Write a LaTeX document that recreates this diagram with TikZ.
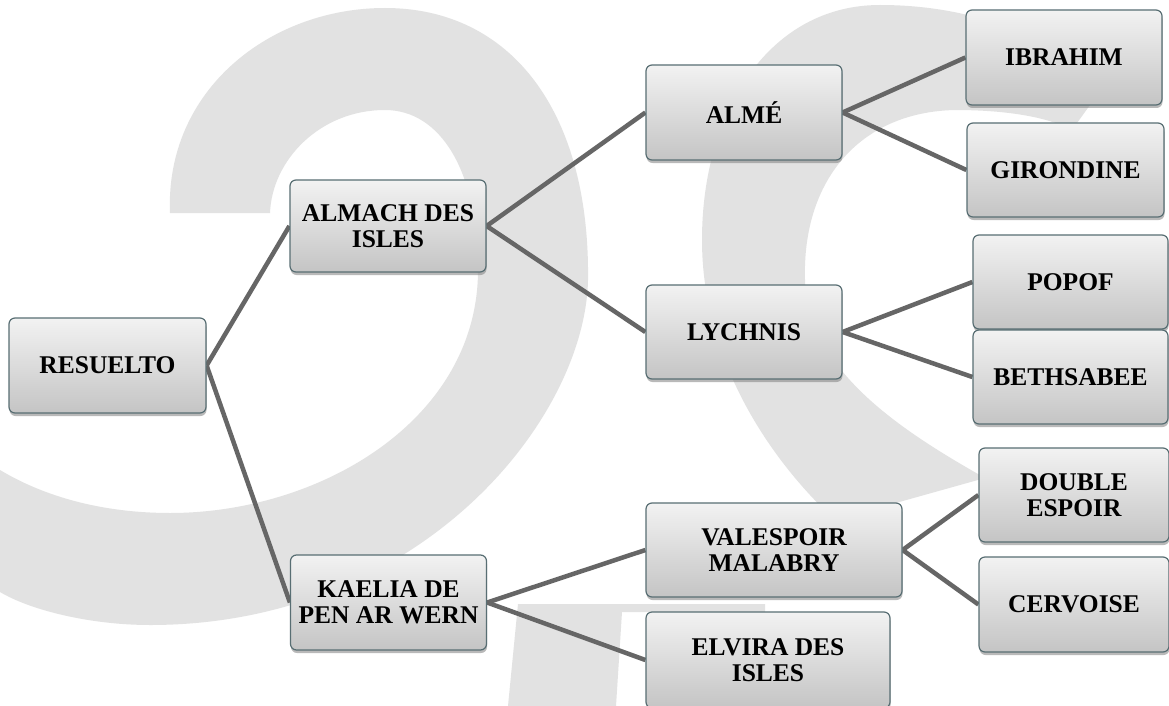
\documentclass[tikz,border=0pt]{standalone}
\usepackage{fontspec}
\setmainfont{Liberation Serif}
\usetikzlibrary{shadows}
\pgfdeclarelayer{wm}
\pgfdeclarelayer{lines}
\pgfsetlayers{wm,lines,main}
\definecolor{wmgray}{RGB}{226,226,226}
\definecolor{conngray}{RGB}{102,102,102}
\definecolor{boxborder}{RGB}{88,110,115}
\tikzset{
  box/.style={draw=boxborder, line width=1.2pt, rounded corners=6pt,
    top color=white!95!black, bottom color=white!77!black,
    drop shadow={shadow xshift=0.5pt, shadow yshift=-3pt, opacity=0.55},
    align=center, inner sep=0pt,
    font=\fontsize{25.5}{26}\selectfont\bfseries},
  conn/.style={draw=conngray, line width=4.5pt},
  wmark/.style={fill=wmgray, draw=none}
}
\begin{document}
\begin{tikzpicture}[x=1pt,y=-1pt]
\useasboundingbox (0,0) rectangle (1169,706);
% watermark
\begin{pgfonlayer}{wm}
\fill[white] (0,0) rectangle (1169,706);
\fill[wmark] (170,213) .. controls (165,90) and (270,8) .. (385,8)
  .. controls (510,8) and (590,110) .. (588,280)
  .. controls (585,420) and (420,625) .. (150,625)
  .. controls (90,625) and (30,610) .. (0,592) -- (0,470)
  .. controls (50,500) and (110,513) .. (170,513)
  .. controls (320,513) and (478,420) .. (478,270)
  .. controls (478,170) and (440,110) .. (385,110)
  .. controls (320,110) and (272,160) .. (270,213) -- cycle;
\fill[wmark] (1095,98) .. controls (1060,35) and (970,5) .. (880,5)
  .. controls (770,5) and (702,110) .. (702,240)
  .. controls (702,360) and (770,460) .. (835,520) -- (985,478)
  .. controls (900,430) and (808,370) .. (805,280)
  .. controls (802,180) and (860,112) .. (955,110)
  .. controls (1010,110) and (1050,118) .. (1072,130) -- cycle;
\fill[wmark] (518,604) -- (765,604) -- (765,612) -- (622,612) -- (616,706) -- (508,706) -- cycle;
\end{pgfonlayer}
% nodes
\node[box, minimum width=197pt, minimum height=95pt] (res) at (107.5,365.5) {RESUELTO};
\node[box, minimum width=196pt, minimum height=92pt] (alm) at (388,226) {ALMACH DES\\ISLES};
\node[box, minimum width=196pt, minimum height=95pt] (kae) at (388.5,602.5) {KAELIA DE\\PEN AR WERN};
\node[box, minimum width=196pt, minimum height=95pt] (alme) at (744,112.5) {ALMÉ};
\node[box, minimum width=196pt, minimum height=94pt] (lyc) at (744,332) {LYCHNIS};
\node[box, minimum width=256pt, minimum height=94pt] (val) at (774,550) {VALESPOIR\\MALABRY};
\node[box, minimum width=244pt, minimum height=96pt] (elv) at (768,660) {ELVIRA DES\\ISLES};
\node[box, minimum width=196pt, minimum height=95pt] (ibr) at (1064,57.5) {IBRAHIM};
\node[box, minimum width=197pt, minimum height=94pt] (gir) at (1065.5,170) {GIRONDINE};
\node[box, minimum width=195pt, minimum height=94pt] (pop) at (1070.5,282) {POPOF};
\node[box, minimum width=195pt, minimum height=94pt] (bet) at (1070.5,377) {BETHSABEE};
\node[box, minimum width=190pt, minimum height=94pt] (dou) at (1074,495) {DOUBLE\\ESPOIR};
\node[box, minimum width=190pt, minimum height=95pt] (cer) at (1074,604.5) {CERVOISE};
% connectors
\begin{pgfonlayer}{lines}
\draw[conn] (res.east) -- (alm.west);
\draw[conn] (res.east) -- (kae.west);
\draw[conn] (alm.east) -- (alme.west);
\draw[conn] (alm.east) -- (lyc.west);
\draw[conn] (kae.east) -- (val.west);
\draw[conn] (kae.east) -- (elv.west);
\draw[conn] (alme.east) -- (ibr.west);
\draw[conn] (alme.east) -- (gir.west);
\draw[conn] (lyc.east) -- (pop.west);
\draw[conn] (lyc.east) -- (bet.west);
\draw[conn] (val.east) -- (dou.west);
\draw[conn] (val.east) -- (cer.west);
\end{pgfonlayer}
\end{tikzpicture}
\end{document}
